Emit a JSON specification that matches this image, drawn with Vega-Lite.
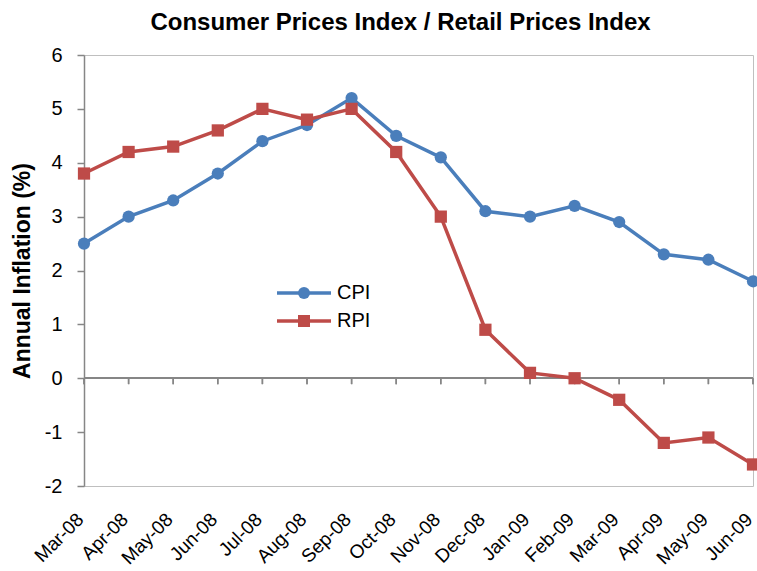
{
  "$schema": "https://vega.github.io/schema/vega-lite/v6.json",
  "width": 669,
  "height": 431,
  "autosize": {"type": "none"},
  "padding": {"left": 84, "top": 55, "right": 4, "bottom": 85},
  "background": "white",
  "config": {
    "font": "Liberation Sans",
    "view": {"stroke": "#bfbfbf", "strokeWidth": 1}
  },
  "title": {
    "text": "Consumer Prices Index / Retail Prices Index",
    "fontSize": 24,
    "fontWeight": "bold",
    "color": "#000000",
    "font": "Liberation Sans",
    "anchor": "middle",
    "dx": -18,
    "offset": 10
  },
  "data": {
    "values": [
      {"month": "Mar-08", "series": "CPI", "value": 2.5},
      {"month": "Apr-08", "series": "CPI", "value": 3.0},
      {"month": "May-08", "series": "CPI", "value": 3.3},
      {"month": "Jun-08", "series": "CPI", "value": 3.8},
      {"month": "Jul-08", "series": "CPI", "value": 4.4},
      {"month": "Aug-08", "series": "CPI", "value": 4.7},
      {"month": "Sep-08", "series": "CPI", "value": 5.2},
      {"month": "Oct-08", "series": "CPI", "value": 4.5},
      {"month": "Nov-08", "series": "CPI", "value": 4.1},
      {"month": "Dec-08", "series": "CPI", "value": 3.1},
      {"month": "Jan-09", "series": "CPI", "value": 3.0},
      {"month": "Feb-09", "series": "CPI", "value": 3.2},
      {"month": "Mar-09", "series": "CPI", "value": 2.9},
      {"month": "Apr-09", "series": "CPI", "value": 2.3},
      {"month": "May-09", "series": "CPI", "value": 2.2},
      {"month": "Jun-09", "series": "CPI", "value": 1.8},
      {"month": "Mar-08", "series": "RPI", "value": 3.8},
      {"month": "Apr-08", "series": "RPI", "value": 4.2},
      {"month": "May-08", "series": "RPI", "value": 4.3},
      {"month": "Jun-08", "series": "RPI", "value": 4.6},
      {"month": "Jul-08", "series": "RPI", "value": 5.0},
      {"month": "Aug-08", "series": "RPI", "value": 4.8},
      {"month": "Sep-08", "series": "RPI", "value": 5.0},
      {"month": "Oct-08", "series": "RPI", "value": 4.2},
      {"month": "Nov-08", "series": "RPI", "value": 3.0},
      {"month": "Dec-08", "series": "RPI", "value": 0.9},
      {"month": "Jan-09", "series": "RPI", "value": 0.1},
      {"month": "Feb-09", "series": "RPI", "value": 0.0},
      {"month": "Mar-09", "series": "RPI", "value": -0.4},
      {"month": "Apr-09", "series": "RPI", "value": -1.2},
      {"month": "May-09", "series": "RPI", "value": -1.1},
      {"month": "Jun-09", "series": "RPI", "value": -1.6}
    ]
  },
  "encoding": {
    "x": {
      "field": "month",
      "type": "ordinal",
      "sort": null,
      "scale": {"type": "point", "padding": 0},
      "axis": {
        "title": null,
        "domain": false,
        "ticks": false,
        "grid": false,
        "labelAngle": -45,
        "labelAlign": "right",
        "labelBaseline": "middle",
        "labelFontSize": 19,
        "labelColor": "#000000",
        "labelPadding": 30,
        "labelOffset": -4,
        "labelFont": "Liberation Sans"
      }
    },
    "y": {
      "field": "value",
      "type": "quantitative",
      "scale": {"domain": [-2, 6], "nice": false, "zero": false},
      "axis": {
        "title": "Annual Inflation (%)",
        "titleFontSize": 23,
        "titleFontWeight": "bold",
        "titleColor": "#000000",
        "titleFont": "Liberation Sans",
        "titlePadding": 10,
        "values": [-2, -1, 0, 1, 2, 3, 4, 5, 6],
        "labelExpr": "'' + datum.value",
        "grid": false,
        "domainColor": "#868686",
        "domainWidth": 1.5,
        "tickColor": "#868686",
        "tickSize": 7,
        "tickWidth": 1.5,
        "labelFontSize": 20,
        "labelColor": "#000000",
        "labelPadding": 15,
        "labelFont": "Liberation Sans"
      }
    }
  },
  "layer": [
    {
      "mark": {"type": "rule", "color": "#868686", "strokeWidth": 1.5},
      "encoding": {"y": {"datum": 0}, "x": null}
    },
    {
      "mark": {"type": "rule", "color": "#868686", "strokeWidth": 1.5},
      "encoding": {"y": {"datum": 0}, "y2": {"datum": -0.11}}
    },
    {
      "mark": {"type": "line", "strokeWidth": 3.5},
      "encoding": {
        "stroke": {
          "field": "series",
          "type": "nominal",
          "scale": {"domain": ["CPI", "RPI"], "range": ["#4a7ebb", "#be4b48"]},
          "legend": {
            "title": null,
            "orient": "none",
            "legendX": 210,
            "legendY": 228,
            "padding": 0,
            "symbolType": "M-4.5,0H4.5",
            "symbolSize": 144,
            "symbolStrokeWidth": 3.5,
            "symbolFillColor": "transparent",
            "labelOffset": 23,
            "labelFontSize": 20,
            "labelColor": "#000000",
            "labelFont": "Liberation Sans",
            "rowPadding": 8
          }
        }
      }
    },
    {
      "mark": {"type": "point", "filled": true, "opacity": 1, "size": 150},
      "encoding": {
        "fill": {
          "field": "series",
          "type": "nominal",
          "scale": {"range": ["#4a7ebb", "#be4b48"]},
          "legend": {
            "title": null,
            "orient": "none",
            "legendX": 210,
            "legendY": 228,
            "padding": 0,
            "symbolSize": 144,
            "symbolStrokeWidth": 0,
            "labelOffset": 23,
            "labelFontSize": 20,
            "labelOpacity": 0,
            "labelFont": "Liberation Sans",
            "rowPadding": 8
          }
        },
        "shape": {
          "field": "series",
          "type": "nominal",
          "scale": {"range": ["circle", "square"]},
          "legend": {
            "title": null,
            "orient": "none",
            "legendX": 210,
            "legendY": 228,
            "padding": 0,
            "symbolSize": 144,
            "labelOffset": 23,
            "labelFontSize": 20,
            "labelOpacity": 0,
            "rowPadding": 8
          }
        }
      }
    }
  ]
}
